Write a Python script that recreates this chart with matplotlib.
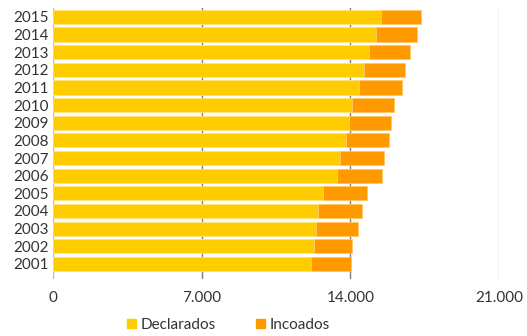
import numpy as np
import matplotlib.pyplot as plt
from matplotlib.patches import Patch

years = ['2001', '2002', '2003', '2004', '2005', '2006', '2007', '2008',
         '2009', '2010', '2011', '2012', '2013', '2014', '2015']
declarados = [12160, 12290, 12380, 12470, 12720, 13380, 13510, 13790,
              13920, 14090, 14400, 14620, 14880, 15210, 15440]
totales = [14010, 14090, 14360, 14530, 14780, 15480, 15580, 15840,
           15900, 16060, 16420, 16560, 16800, 17130, 17310]
incoados = [t - d for t, d in zip(totales, declarados)]

yellow = '#FFCC00'
orange = '#FF9900'
plt.rcParams['font.family'] = ['Lato', 'DejaVu Sans']

fig = plt.figure(figsize=(5.27, 3.36), dpi=100)
ax = fig.add_axes([0.1006, 0.170, 0.8463, 0.806])

y = np.arange(len(years))
ax.barh(y, declarados, height=0.8, color=yellow, edgecolor='#FFE27A', linewidth=0.6, zorder=2)
ax.barh(y, incoados, left=declarados, height=0.8, color=orange, edgecolor='#FFC766', linewidth=0.6, zorder=2)

ax.set_xlim(0, 21000)
ax.set_ylim(-0.85, len(years) - 0.5)
ax.set_yticks(y)
ax.set_yticklabels(years)
ax.set_xticks([0, 7000, 14000, 21000])
ax.set_xticklabels(['0', '7.000', '14.000', '21.000'])

# grid lines sit behind the bars
ax.axvline(7000, color='#808080', lw=1, zorder=1)
ax.axvline(14000, color='#808080', lw=1, zorder=1)
ax.axvline(21000, color='#BBBBBB', lw=1, zorder=1)
ax.axvline(0, color='#BBBBBB', lw=1, zorder=1)

for s in ax.spines.values():
    s.set_visible(False)
ax.tick_params(axis='both', length=0, labelsize=11, colors='#333333')
ax.tick_params(axis='x', pad=9)
ax.tick_params(axis='y', pad=3)

handles = [Patch(color=yellow, label='Declarados'), Patch(color=orange, label='Incoados')]
fig.legend(handles=handles, loc='center', bbox_to_anchor=(0.433, 0.033), ncol=2,
           frameon=False, fontsize=11, handlelength=0.6, handleheight=0.6,
           handletextpad=0.3, columnspacing=2.6, labelcolor='#333333')

fig.savefig('out.png', dpi=100)
